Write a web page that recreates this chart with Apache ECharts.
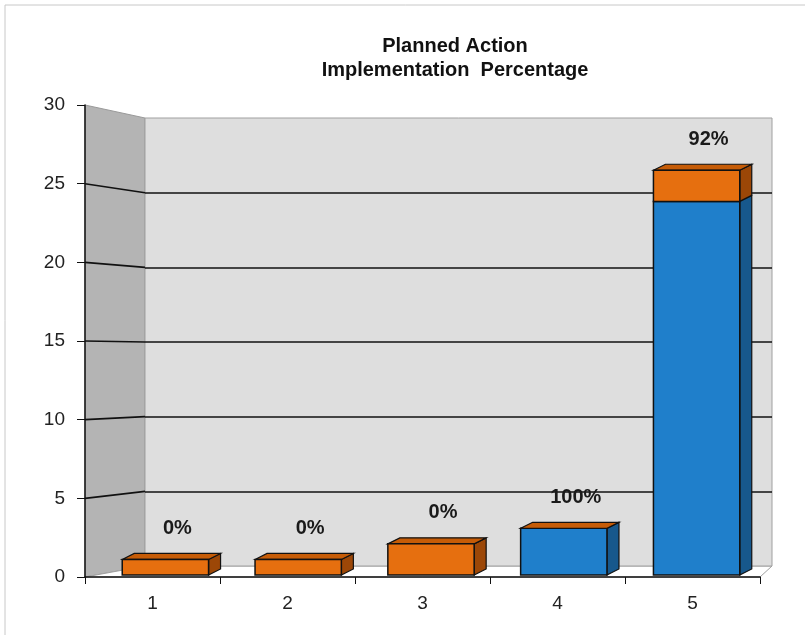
<!DOCTYPE html>
<html>
<head>
<meta charset="utf-8">
<script src="https://cdn.jsdelivr.net/npm/echarts@6/dist/echarts.min.js"></script>
<style>
  html, body { margin: 0; padding: 0; background: #fff; }
  #main { width: 805px; height: 635px; }
</style>
</head>
<body>
<div id="main"></div>
<script>
var categories = ['1', '2', '3', '4', '5']
var implemented = [0, 0, 0, 3, 24]
var pending = [1, 1, 2, 0, 2]
var wallTicks = [5, 10, 15, 20, 25]

// layout of the fake 3d box: front plane, back wall, and the plane the bars stand on
var H = 635
var front = { left: 85, right: 45, top: 105, bottom: 58 }
var back = { left: 145, right: 33, top: 118, bottom: 69 }
var mid = { left: 99, right: 42, top: 108, bottom: 60 }
var depth = [12, -6]
var font = '"Liberation Sans", Arial, sans-serif'

var blue = { front: '#1f7fcb', top: '#1a6cad', side: '#17588c' }
var orange = { front: '#e66f0f', top: '#c65c07', side: '#9c4707' }

function barItem(color, onTop) {
  return function(params, api) {
    var i = api.value(0)
    var lo = api.value(1)
    var hi = api.value(2)
    if (!onTop && hi <= lo) return null
    var band = api.size([1, 0])[0]
    var w = band * 0.65
    var p0 = api.coord([i, lo])
    var p1 = api.coord([i, hi])
    var x = p0[0] - w / 2
    var yB = p0[1]
    var yT = p1[1]
    var dx = depth[0]
    var dy = depth[1]
    var kids = []
    kids.push({
      type: 'polygon',
      shape: { points: [[x + w, yT], [x + w + dx, yT + dy], [x + w + dx, yB + dy], [x + w, yB]] },
      style: { fill: color.side, stroke: '#111', lineWidth: 1.2 }
    })
    if (onTop) {
      kids.push({
        type: 'polygon',
        shape: { points: [[x, yT], [x + dx, yT + dy], [x + w + dx, yT + dy], [x + w, yT]] },
        style: { fill: color.top, stroke: '#111', lineWidth: 1.2 }
      })
    }
    if (yB - yT > 0) {
      kids.push({
        type: 'rect',
        shape: { x: x, y: yT, width: w, height: yB - yT },
        style: { fill: color.front, stroke: '#111', lineWidth: 1.5 }
      })
    }
    if (onTop) {
      var tot = implemented[i] + pending[i]
      var pct = Math.round(implemented[i] / tot * 100) + '%'
      kids.push({
        type: 'text',
        style: {
          text: pct, x: x + w / 2 + dx, y: yT - 31,
          align: 'center', verticalAlign: 'middle',
          font: 'bold 20px ' + font, fill: '#1a1a1a'
        }
      })
    }
    return { type: 'group', children: kids }
  }
}

var chart = echarts.init(document.getElementById('main'))
chart.setOption({
  backgroundColor: '#fff',
  animation: false,
  title: {
    text: 'Planned Action\nImplementation  Percentage',
    left: 450,
    top: 29,
    textAlign: 'center',
    textStyle: { fontFamily: font, fontSize: 20, fontWeight: 'bold', lineHeight: 24, color: '#111' }
  },
  graphic: [
    { type: 'rect', z: -1, shape: { x: 5, y: 5, width: 820, height: 700 }, style: { fill: 'none', stroke: '#c8c8c8', lineWidth: 1 } },
    { type: 'polygon', z: -1, shape: { points: [[85, 105], [145, 118], [145, 566], [85, 577]] }, style: { fill: '#b4b4b4', stroke: '#9a9a9a', lineWidth: 1 } },
    { type: 'polygon', z: -1, shape: { points: [[85, 577], [145, 566], [772, 566], [760, 577]] }, style: { fill: '#fff', stroke: '#a0a0a0', lineWidth: 1 } }
  ],
  grid: [
    Object.assign({ show: false }, front),
    Object.assign({ show: true, backgroundColor: '#dedede', borderColor: '#a0a0a0', borderWidth: 1 }, back),
    Object.assign({ show: false }, mid)
  ],
  xAxis: [
    {
      gridIndex: 0, type: 'category', data: categories,
      axisLine: { lineStyle: { color: '#111', width: 1.5 } },
      axisTick: { show: true, length: 7, lineStyle: { color: '#111' } },
      axisLabel: { margin: 17, fontFamily: font, fontSize: 19, color: '#222' }
    },
    { gridIndex: 1, type: 'category', data: categories, show: false },
    { gridIndex: 2, type: 'category', data: categories, show: false }
  ],
  yAxis: [
    {
      gridIndex: 0, type: 'value', min: 0, max: 30, interval: 5,
      axisLine: { show: true, lineStyle: { color: '#111', width: 1.5 } },
      axisTick: { show: true, length: 8, lineStyle: { color: '#111' } },
      axisLabel: { margin: 20, fontFamily: font, fontSize: 19, color: '#222' },
      splitLine: { show: false }
    },
    {
      gridIndex: 1, type: 'value', min: 0, max: 30, interval: 5,
      axisLine: { show: false }, axisTick: { show: false }, axisLabel: { show: false },
      splitLine: { show: true, showMinLine: false, showMaxLine: false, lineStyle: { color: '#111', width: 1.6 } }
    },
    { gridIndex: 2, type: 'value', min: 0, max: 30, interval: 5, show: false, splitLine: { show: false } }
  ],
  series: [
    {
      // grid lines running across the side wall
      type: 'custom', xAxisIndex: 0, yAxisIndex: 0, silent: true,
      data: wallTicks.map(function(v) { return [0, v] }),
      encode: { x: 0, y: 1 },
      renderItem: function(params, api) {
        var v = api.value(1)
        var p = api.coord([0, v])
        var yb = back.top + (H - back.top - back.bottom) * (1 - v / 30)
        return {
          type: 'line',
          shape: { x1: params.coordSys.x, y1: p[1], x2: back.left, y2: yb },
          style: { stroke: '#111', lineWidth: 1.6 }
        }
      }
    },
    {
      name: 'Implemented', type: 'custom', xAxisIndex: 2, yAxisIndex: 2,
      data: implemented.map(function(v, i) { return [i, 0, v] }),
      encode: { x: 0, y: [1, 2] },
      renderItem: barItem(blue, false)
    },
    {
      name: 'Pending', type: 'custom', xAxisIndex: 2, yAxisIndex: 2,
      data: pending.map(function(v, i) { return [i, implemented[i], implemented[i] + v] }),
      encode: { x: 0, y: [1, 2] },
      renderItem: barItem(orange, true)
    }
  ]
})
</script>
</body>
</html>
